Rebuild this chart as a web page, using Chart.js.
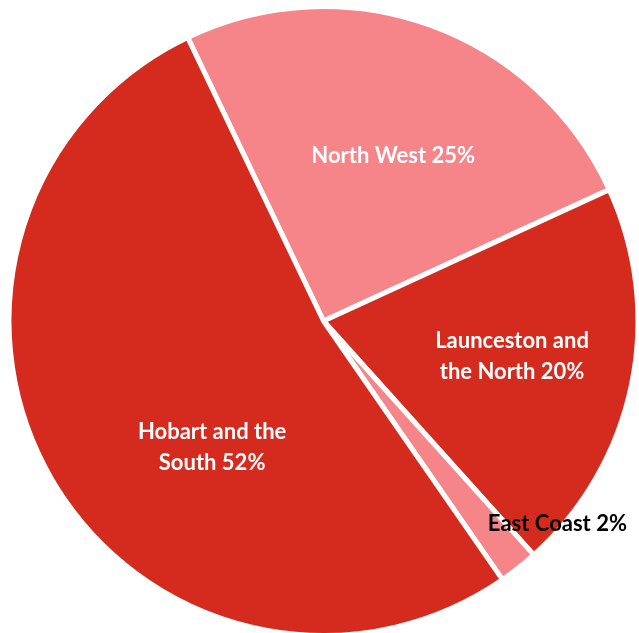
<!DOCTYPE html>
<html>
<head>
<meta charset="utf-8">
<script src="https://cdn.jsdelivr.net/npm/chart.js@4.4.0/dist/chart.umd.min.js"></script>
<style>
  html, body { margin: 0; padding: 0; background: #fff; overflow: hidden; }
  canvas { display: block; }
</style>
</head>
<body>
<canvas id="regionChart" width="645" height="645"></canvas>
<script>
// Share of respondents by region
const regions = ['North West', 'Launceston and the North', 'East Coast', 'Hobart and the South'];
const shares = [25, 20, 2, 52];
// label lines, each line as drawn inside the slice
const labelLines = [
    ['North West'],
    ['Launceston and', 'the North'],
    ['East Coast'],
    ['Hobart and the', 'South']
];

const red = 'rgb(213, 43, 30)';
const pink = 'rgb(245, 133, 137)';
const sliceColors = [pink, red, pink, red];
const labelColors = ['#fff', '#fff', '#000', '#fff'];

// where each label sits: fraction of radius, and turn (deg) away from the slice middle
const labelRadius = [0.57, 0.61, 0.985, 0.536];
const labelTurn = [3, -1, -10.7, -18.5];

const sliceLabels = {
    id: 'sliceLabels',
    afterDatasetsDraw(chart) {
        const ctx = chart.ctx;
        const meta = chart.getDatasetMeta(0);
        ctx.save();
        ctx.font = 'bold 22px Lato';
        ctx.textAlign = 'center';
        ctx.textBaseline = 'middle';
        meta.data.forEach((arc, i) => {
            const p = arc.getProps(['x', 'y', 'startAngle', 'endAngle', 'outerRadius'], true);
            const mid = (p.startAngle + p.endAngle) / 2 + labelTurn[i] * Math.PI / 180;
            const r = p.outerRadius * labelRadius[i];
            const cx = p.x + Math.cos(mid) * r;
            const cy = p.y + Math.sin(mid) * r;
            const lines = labelLines[i].slice();
            lines[lines.length - 1] += ' ' + shares[i] + '%';
            const lh = 31;
            const top = cy - (lines.length - 1) * lh / 2;
            ctx.fillStyle = labelColors[i];
            lines.forEach((t, k) => ctx.fillText(t, cx, top + k * lh));
        });
        ctx.restore();
    }
};

new Chart(document.getElementById('regionChart').getContext('2d'), {
    type: 'pie',
    data: {
        labels: regions,
        datasets: [{
            data: shares,
            backgroundColor: sliceColors,
            borderColor: '#fff',
            borderWidth: 5
        }]
    },
    options: {
        responsive: false,
        animation: false,
        rotation: -25.6,
        layout: { padding: { left: 6.5, right: 4.5, top: 4, bottom: 7 } },
        plugins: {
            legend: { display: false },
            tooltip: { enabled: false }
        }
    },
    plugins: [sliceLabels]
});
</script>
</body>
</html>
